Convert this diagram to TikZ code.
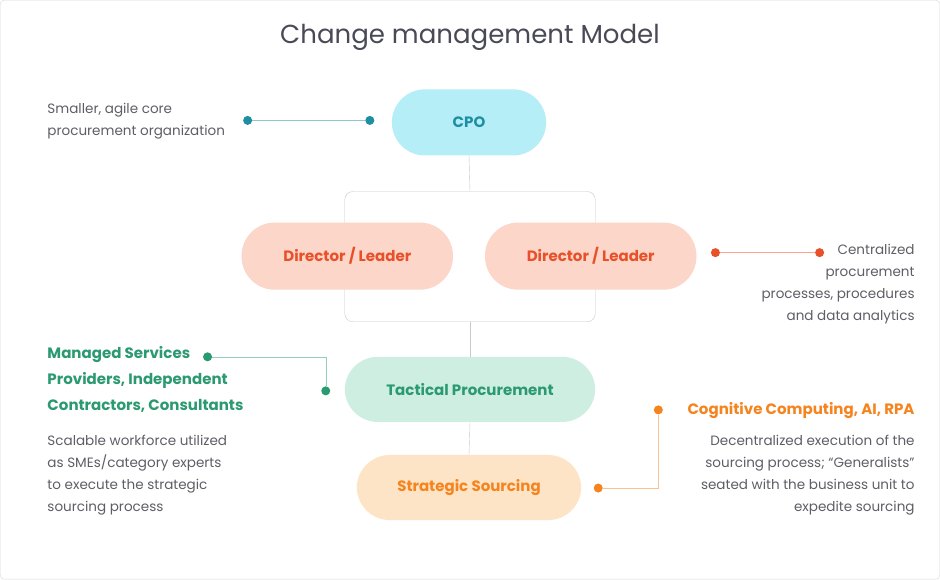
\documentclass[tikz,border=0pt]{standalone}
\usepackage{fontspec}
\setmainfont{Poppins}
\definecolor{bordergray}{HTML}{D8D8DC}
\definecolor{titlec}{HTML}{4A4A57}
\definecolor{txt}{HTML}{5E5E66}
\definecolor{linegray}{HTML}{C9C9CE}
\definecolor{cyanf}{HTML}{B5EEF6}\definecolor{cyant}{HTML}{1E8EA3}
\definecolor{redf}{HTML}{FCD6C9}\definecolor{redt}{HTML}{E8502A}
\definecolor{greenf}{HTML}{CDEEE1}\definecolor{greent}{HTML}{2B9A70}
\definecolor{orf}{HTML}{FDE4C6}\definecolor{ort}{HTML}{F5841F}
\begin{document}
\begin{tikzpicture}[x=1pt,y=-1pt,
  pill/.style={rounded corners=33pt,inner sep=0pt,font=\fontsize{15}{18}\selectfont\bfseries},
  note/.style={font=\fontsize{13.5}{22}\selectfont,text=txt,align=left,inner sep=0pt},
  notebold/.style={font=\fontsize{15}{26}\selectfont\bfseries,align=left,inner sep=0pt},
  dot/.style={circle,inner sep=0pt,minimum size=9pt}]
\draw[bordergray,fill=white,rounded corners=4pt] (1,1) rectangle (939,579);
\node[font=\fontsize{26}{30}\selectfont,text=titlec] (title) at (470,38) {Change management Model};
% frame
\draw[linegray,rounded corners=8pt] (345,192) rectangle (595,322);
\coordinate (ftop) at (470,192); \coordinate (fbot) at (470,322);
\node[pill,fill=cyanf,text=cyant,minimum width=154pt,minimum height=66pt] (cpo) at (469,123) {CPO};
\node[pill,fill=redf,text=redt,minimum width=211pt,minimum height=67pt] (dl) at (347.5,256.5) {Director / Leader};
\node[pill,fill=redf,text=redt,minimum width=211pt,minimum height=67pt] (dr) at (590.5,256.5) {Director / Leader};
\node[pill,fill=greenf,text=greent,minimum width=250pt,minimum height=65pt] (tac) at (470,389.5) {Tactical Procurement};
\node[pill,fill=orf,text=ort,minimum width=224pt,minimum height=65pt] (str) at (469,487.5) {Strategic Sourcing};
\draw[linegray] (cpo.south) -- (ftop);
\draw[linegray] (fbot) -- (tac.north);
\draw[linegray] (tac.south) -- (str.north);
% CPO annotation
\node[dot,fill=cyant] (c1) at (248,121) {}; \node[dot,fill=cyant] (c2) at (370,121) {};
\draw[cyant!50] (c1) -- (c2);
\node[note,anchor=north west] (cn) at (48,104) {Smaller, agile core\\procurement organization};
% right director annotation
\node[dot,fill=redt] (r1) at (715,253) {}; \node[dot,fill=redt] (r2) at (819,253) {};
\draw[redt!50] (r1) -- (r2);
\node[note,align=right,anchor=north east] (rn) at (914,244) {Centralized\\procurement\\processes, procedures\\and data analytics};
% green annotation
\node[dot,fill=greent] (g1) at (208,357) {}; \node[dot,fill=greent] (g2) at (326,391) {};
\draw[greent!50] (g1) -- (326,357) -- (g2);
\node[notebold,text=greent,anchor=north west] (gn) at (48,346) {Managed Services\\Providers, Independent\\Contractors, Consultants};
\node[note,anchor=north west] (gn2) at (48,435) {Scalable workforce utilized\\as SMEs/category experts\\to execute the strategic\\sourcing process};
% orange annotation
\node[dot,fill=ort] (o1) at (658,410) {}; \node[dot,fill=ort] (o2) at (598,488) {};
\draw[ort!50] (o1) -- (658,488) -- (o2);
\node[notebold,text=ort,anchor=east] (on) at (914,411) {Cognitive Computing, AI, RPA};
\node[note,align=right,anchor=north east] (on2) at (914,435) {Decentralized execution of the\\sourcing process; “Generalists”\\seated with the business unit to\\expedite sourcing};
\end{tikzpicture}
\end{document}
